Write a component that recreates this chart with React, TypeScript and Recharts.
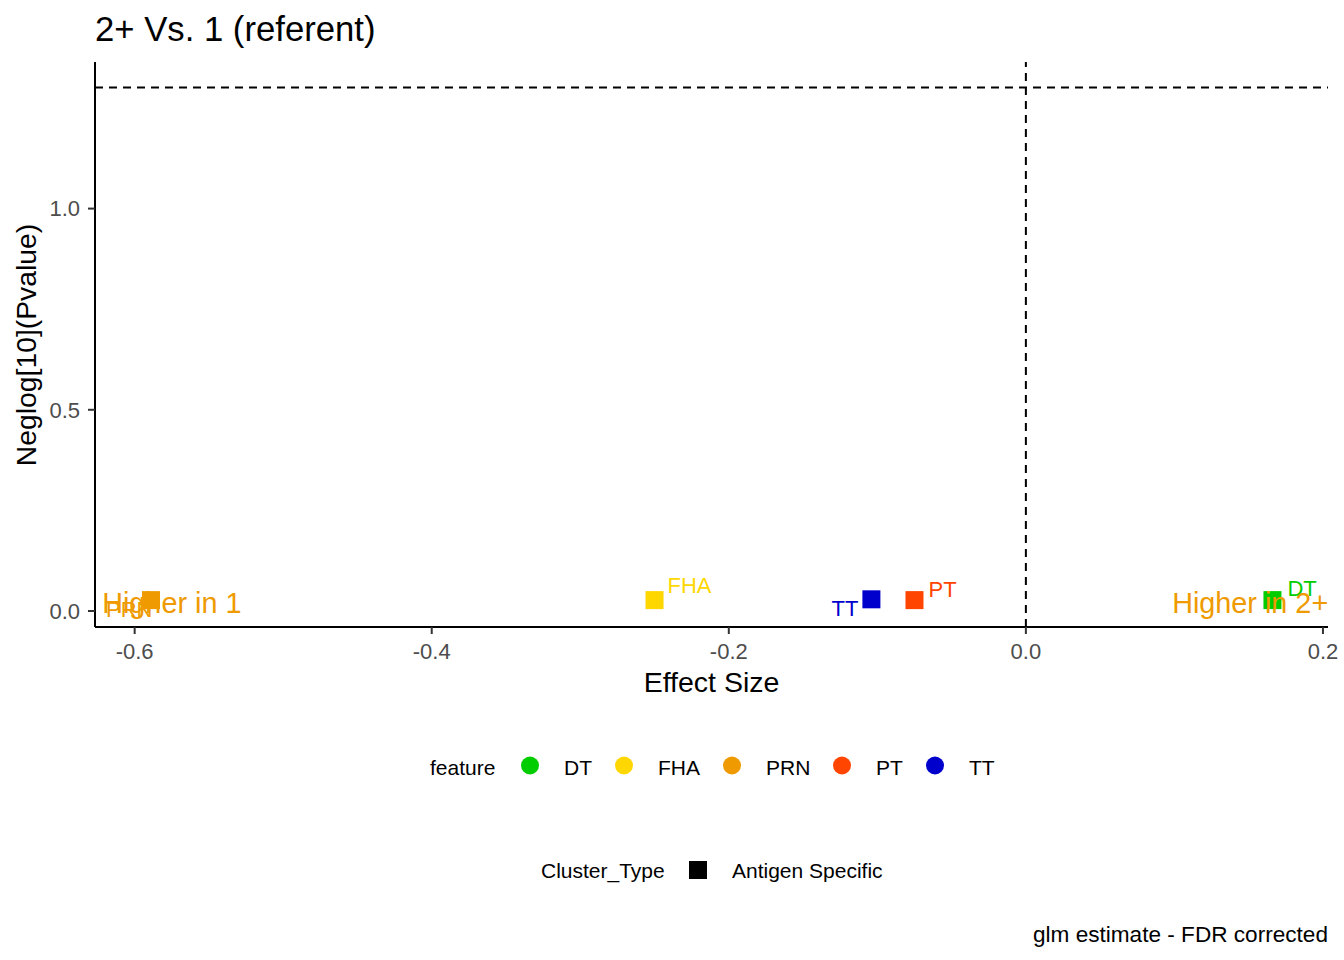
import React from "react"
import { ScatterChart, Scatter, XAxis, YAxis, ReferenceLine, Label } from "recharts"

const features = ["DT", "FHA", "PRN", "PT", "TT"]
const effectSize = [0.166, -0.25, -0.589, -0.075, -0.104]
const negLogP = [0.027, 0.027, 0.027, 0.027, 0.029]
const featureColors = ["#00CD00", "#FFD700", "#EE9A00", "#FF4500", "#0000CD"]

const xTicks = [-0.6, -0.4, -0.2, 0, 0.2]
const yTicks = [0, 0.5, 1]
const pThreshold = -Math.log10(0.05)

const annotations = ["Higher in 1", "Higher in 2+"]
const annotationX = [-0.575, 0.151]
const annotationY = [0.021, 0.021]
const annotationColor = "#EE9A00"

const clusterTypes = ["Antigen Specific"]

// where the repelled label lands next to each square
const labelOffset: Record<string, { dx: number; dy: number; anchor: "start" | "end" }> = {
  DT: { dx: 15, dy: -4, anchor: "start" },
  FHA: { dx: 13, dy: -7, anchor: "start" },
  PRN: { dx: -45, dy: 17, anchor: "start" },
  PT: { dx: 14, dy: -3, anchor: "start" },
  TT: { dx: -13, dy: 17, anchor: "end" },
}

const font = '"Liberation Sans", Arial, sans-serif'

const points = features.map((f, i) => ({
  x: effectSize[i],
  y: negLogP[i],
  feature: f,
  color: featureColors[i],
}))

const annotationRows = annotations.map((a, i) => ({ x: annotationX[i], y: annotationY[i], text: a }))

const SquarePoint = (props: any) => {
  const { cx, cy, payload } = props
  const off = labelOffset[payload.feature]
  return (
    <g>
      <rect x={cx - 9} y={cy - 9} width={18} height={18} fill={payload.color} />
      <text
        x={cx + off.dx}
        y={cy + off.dy}
        textAnchor={off.anchor}
        fill={payload.color}
        fontSize={22}
        fontFamily={font}
      >
        {payload.feature}
      </text>
    </g>
  )
}

const AnnotationText = (props: any) => {
  const { cx, cy, payload } = props
  return (
    <text x={cx} y={cy + 10} textAnchor="middle" fill={annotationColor} fontSize={28.8} fontFamily={font}>
      {payload.text}
    </text>
  )
}

const legendCircleX = [530, 624, 732, 842, 935]

export default function App() {
  return (
    <div style={{ position: "absolute", left: 0, top: 0, width: 1344, height: 960, background: "#fff" }}>
      <ScatterChart width={1344} height={960} margin={{ top: 62, right: 16, bottom: 0, left: 0 }}>
        <XAxis
          type="number"
          dataKey="x"
          domain={[-0.6267, 0.2034]}
          ticks={xTicks}
          interval={0}
          allowDataOverflow
          tickFormatter={(v: number) => v.toFixed(1)}
          height={333}
          axisLine={{ stroke: "#000", strokeWidth: 2 }}
          tickLine={{ stroke: "#333", strokeWidth: 2 }}
          tickSize={7}
          tickMargin={9}
          tick={{ fill: "#4D4D4D", fontSize: 22, fontFamily: font }}
        >
          <Label
            value="Effect Size"
            position="insideTop"
            offset={45}
            fill="#000"
            fontSize={28.5}
            fontFamily={font}
          />
        </XAxis>
        <YAxis
          type="number"
          dataKey="y"
          domain={[-0.0398, 1.3643]}
          ticks={yTicks}
          interval={0}
          allowDataOverflow
          tickFormatter={(v: number) => v.toFixed(1)}
          width={95}
          axisLine={{ stroke: "#000", strokeWidth: 2 }}
          tickLine={{ stroke: "#333", strokeWidth: 2 }}
          tickSize={7}
          tickMargin={8}
          tick={{ fill: "#4D4D4D", fontSize: 22, fontFamily: font }}
        >
          <Label
            content={() => (
              <text
                transform="translate(36,345) rotate(-90)"
                textAnchor="middle"
                fill="#000"
                fontSize={28.3}
                fontFamily={font}
              >
                Neglog[10](Pvalue)
              </text>
            )}
          />
        </YAxis>
        <ReferenceLine y={pThreshold} stroke="#000" strokeWidth={2} strokeDasharray="8 6" />
        <ReferenceLine x={0} stroke="#000" strokeWidth={2} strokeDasharray="8 6" />
        <Scatter data={points} shape={SquarePoint} isAnimationActive={false} />
        <Scatter data={annotationRows} shape={AnnotationText} isAnimationActive={false} />
      </ScatterChart>

      <svg
        width={1344}
        height={960}
        style={{ position: "absolute", left: 0, top: 0, pointerEvents: "none" }}
        fontFamily={font}
      >
        <text x={95} y={41} fontSize={34.7} fill="#000">
          2+ Vs. 1 (referent)
        </text>

        <text x={430} y={775} fontSize={21} fill="#000">
          feature
        </text>
        {features.map((f, i) => (
          <g key={f}>
            <circle cx={legendCircleX[i]} cy={765.5} r={9} fill={featureColors[i]} />
            <text x={legendCircleX[i] + 34} y={775} fontSize={21} fill="#000">
              {f}
            </text>
          </g>
        ))}

        <text x={541} y={878} fontSize={21} fill="#000">
          Cluster_Type
        </text>
        <rect x={689} y={861} width={18} height={18} fill="#000" />
        <text x={732} y={878} fontSize={21} fill="#000">
          {clusterTypes[0]}
        </text>

        <text x={1328} y={942} fontSize={22.6} textAnchor="end" fill="#000">
          glm estimate - FDR corrected
        </text>
      </svg>
    </div>
  )
}
